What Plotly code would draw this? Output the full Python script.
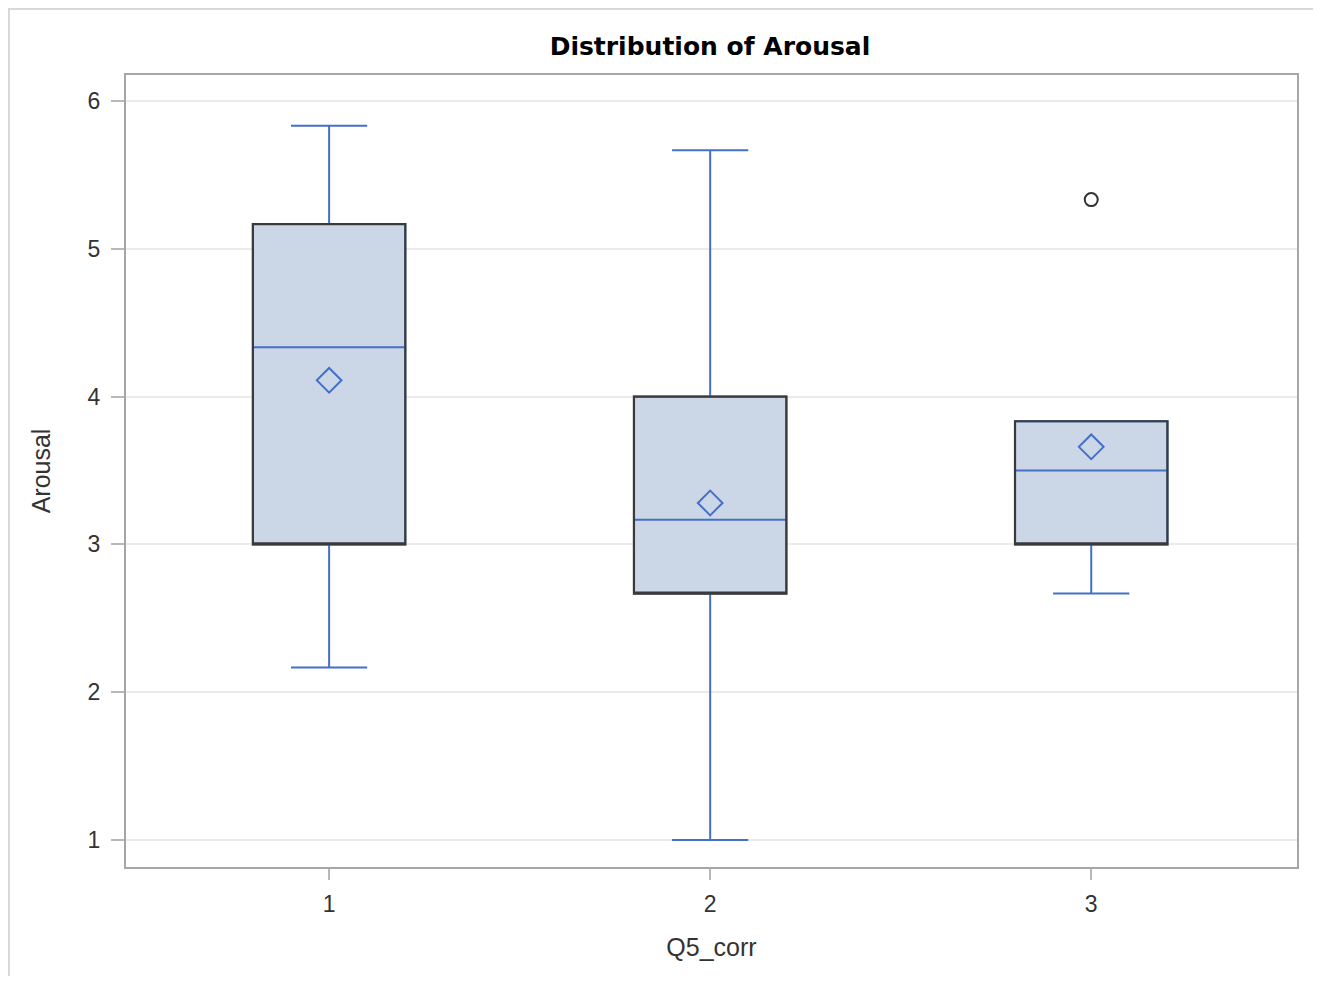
import plotly.graph_objects as go

# ---- data ----
categories = [1, 2, 3]
q1 = [3.0, 2.667, 3.0]
median = [4.333, 3.167, 3.5]
q3 = [5.167, 4.0, 3.833]
lower_whisker = [2.167, 1.0, 2.667]
upper_whisker = [5.833, 5.667, 3.833]
means = [4.11, 3.28, 3.66]
outlier_x = [3]
outlier_y = [5.333]
y_ticks = [1, 2, 3, 4, 5, 6]

BLUE = "#4470C8"
FILL = "#CBD6E6"
DARK = "#3a3a3a"
FAM = "Liberation Sans, Arial, sans-serif"
TICKFONT = dict(family=FAM, size=23, color="#333333")

fig = go.Figure()

# whiskers + median (blue), filled box
fig.add_trace(go.Box(
    x=categories, q1=q1, median=median, q3=q3,
    lowerfence=lower_whisker, upperfence=upper_whisker,
    fillcolor=FILL, line=dict(color=BLUE, width=2),
    width=0.4, whiskerwidth=0.5, boxpoints=False, showlegend=False,
))
# dark box outline
fig.add_trace(go.Box(
    x=categories, q1=q1, median=q1, q3=q3,
    lowerfence=q1, upperfence=q3,
    fillcolor="rgba(0,0,0,0)", line=dict(color=DARK, width=2.2),
    width=0.4, whiskerwidth=0.5, boxpoints=False, showlegend=False,
))
# means
fig.add_trace(go.Scatter(
    x=categories, y=means, mode="markers", showlegend=False,
    marker=dict(symbol="diamond-open", size=19, color=BLUE, line=dict(width=2, color=BLUE)),
))
# outliers
fig.add_trace(go.Scatter(
    x=outlier_x, y=outlier_y, mode="markers", showlegend=False,
    marker=dict(symbol="circle-open", size=13, color="#333333", line=dict(width=2, color="#333333")),
))

fig.update_layout(
    width=1305, height=968,
    margin=dict(l=118, r=16, t=67, b=109),
    paper_bgcolor="white", plot_bgcolor="white",
    title=dict(text="<b>Distribution of Arousal</b>", x=0.4987, xanchor="center", xref="paper",
               y=1 - 38 / 968, yanchor="middle", yref="container",
               font=dict(family="DejaVu Sans, sans-serif", size=25, color="black")),
    showlegend=False,
    shapes=[dict(type="rect", xref="paper", yref="paper",
                 x0=-117 / 1171, x1=1.018, y0=-0.16, y1=1 + 66 / 792,
                 line=dict(color="#d8d8d8", width=2), layer="below")],
)
fig.update_xaxes(
    range=[0.467, 3.54], tickvals=categories, ticktext=[str(c) for c in categories],
    showgrid=False, zeroline=False, showline=True, mirror=True,
    linecolor="#a6a6a6", linewidth=2, ticks="outside", ticklen=11, tickwidth=2, tickcolor="#b8b8b8",
    tickfont=TICKFONT, ticklabelstandoff=4,
    title=dict(text="Q5_corr", font=dict(family=FAM, size=25, color="#333333"), standoff=23),
)
fig.update_yaxes(
    range=[0.817, 6.176], tickvals=y_ticks,
    showgrid=True, gridcolor="#ebebeb", gridwidth=2, zeroline=False,
    showline=True, mirror=True, linecolor="#a6a6a6", linewidth=2,
    ticks="outside", ticklen=13, tickwidth=2, tickcolor="#b8b8b8",
    tickfont=TICKFONT, ticklabelstandoff=6,
    title=dict(text="Arousal", font=dict(family=FAM, size=25, color="#333333"), standoff=30),
)

fig.write_html("out.html")
